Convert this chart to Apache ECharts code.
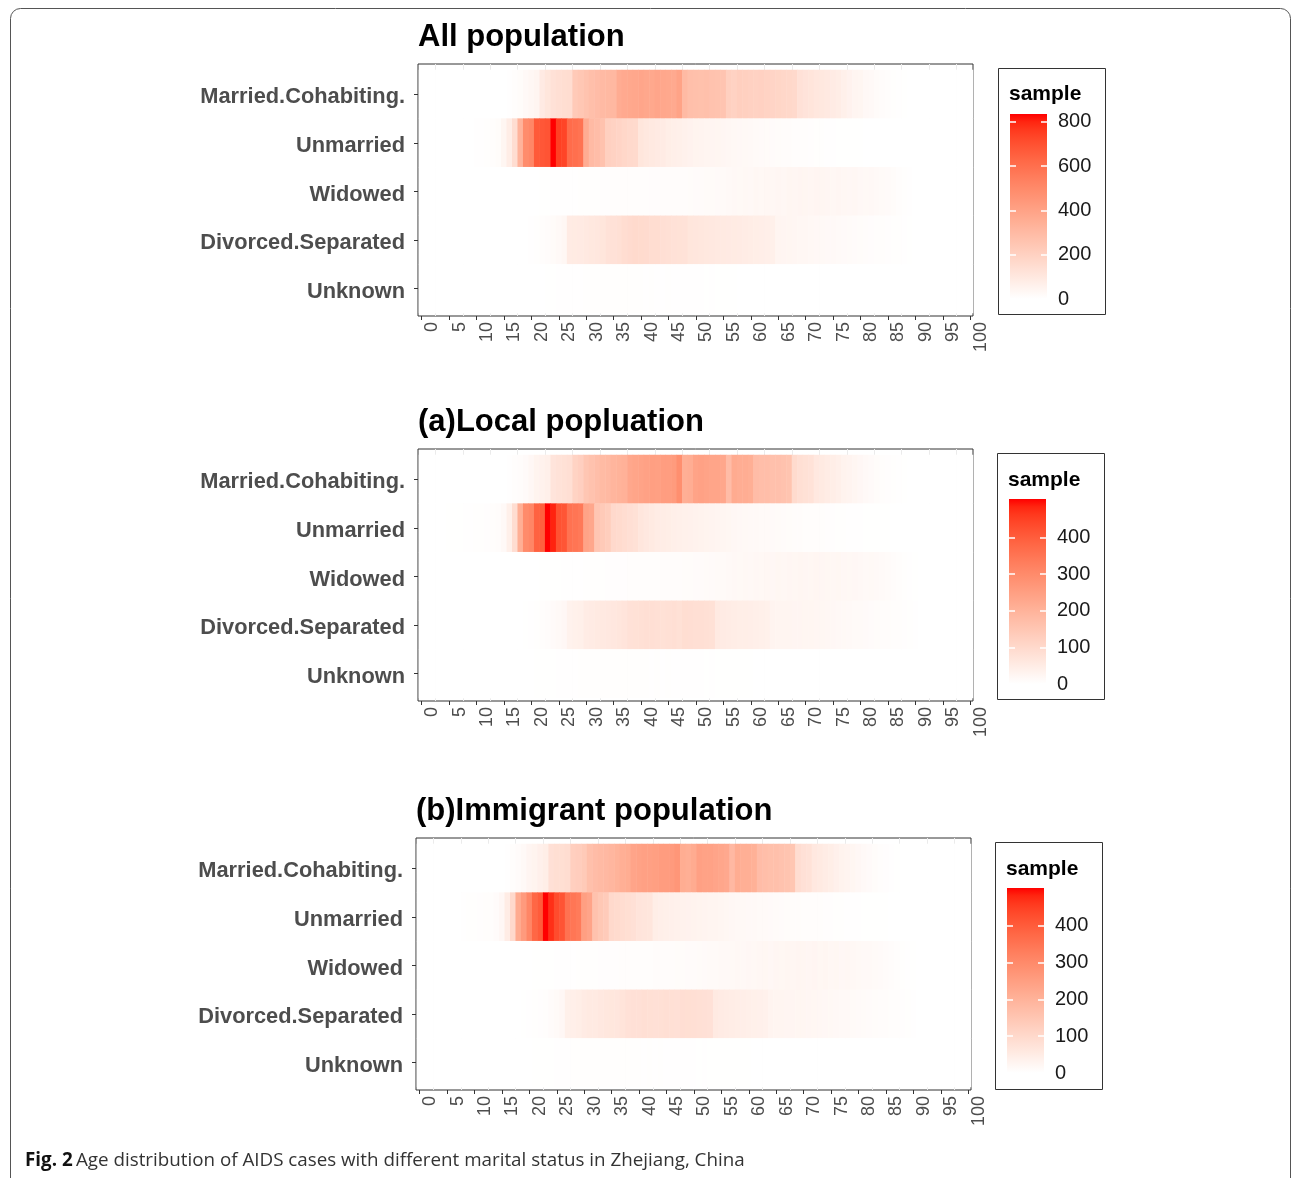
<!DOCTYPE html>
<html>
<head>
<meta charset="utf-8">
<script src="https://cdn.jsdelivr.net/npm/echarts@6/dist/echarts.min.js"></script>
<style>
  html, body { margin: 0; padding: 0; background: #ffffff; }
  #chart { width: 1292px; height: 1178px; }
</style>
</head>
<body>
<div id="chart"></div>
<script>
// ---- categories -------------------------------------------------------
const ages = Array.from({ length: 101 }, (_, i) => String(i));   // age 0 .. 100
const statuses = ['Married.Cohabiting.', 'Unmarried', 'Widowed', 'Divorced.Separated', 'Unknown'];

// ---- axis ticks -------------------------------------------------------
const ageTicks = [0, 5, 10, 15, 20, 25, 30, 35, 40, 45, 50, 55, 60, 65, 70, 75, 80, 85, 90, 95, 100];
const ageGridLines = [2.5, 7.5, 12.5, 17.5, 22.5, 27.5, 32.5, 37.5, 42.5, 47.5,
                      52.5, 57.5, 62.5, 67.5, 72.5, 77.5, 82.5, 87.5, 92.5, 97.5];
const legendTicksAll = [0, 200, 400, 600, 800];
const legendTicksLocal = [0, 100, 200, 300, 400];
const legendTicksImmigrant = [0, 100, 200, 300, 400];

// ---- case counts by age (index = age), All population ----------------
const allMarried = [
  0,0,0,0,0,0,0,0,0,0,
  0,0,0,0,0,1,3,8,15,25,
  35,45,90,110,130,140,145,150,230,245,
  260,280,290,300,305,310,360,370,375,380,
  385,380,375,385,380,375,370,395,300,280,
  275,270,275,265,260,255,205,195,210,205,
  200,195,200,190,185,180,175,170,165,130,
  120,115,105,100,95,85,80,65,55,45,
  40,30,25,18,12,8,5,3,2,1,
  0,0,0,0,0,0,0,0,0,0,
  0];
const allUnmarried = [
  0,0,0,0,0,0,0,0,0,1,
  3,4,5,8,15,40,80,150,330,490,
  510,670,680,690,835,745,735,610,600,585,
  360,300,285,265,205,195,185,175,165,160,
  110,100,95,90,85,75,70,65,60,55,
  50,48,45,42,40,38,35,32,30,28,
  25,22,20,18,16,15,14,12,10,9,
  8,7,6,5,4,3,2,2,2,2,
  2,1,1,1,1,1,0,0,0,0,
  0,0,0,0,0,0,0,0,0,0,
  0];
const allWidowed = [
  0,0,0,0,0,0,0,0,0,0,
  0,0,0,0,0,0,0,0,0,0,
  1,1,2,2,3,3,3,4,4,5,
  5,6,6,7,7,8,8,8,9,9,
  10,10,11,11,12,12,13,14,14,15,
  16,17,18,19,20,22,24,30,28,32,
  30,34,32,36,34,38,36,40,38,42,
  40,38,42,40,38,36,38,35,33,35,
  30,28,30,25,22,20,15,10,6,3,
  1,0,0,0,0,0,0,0,0,0,
  0];
const allDivorced = [
  0,0,0,0,0,0,0,0,0,0,
  0,0,0,0,0,0,0,0,0,1,
  3,5,8,12,18,25,35,85,88,90,
  95,100,105,110,125,130,135,150,155,160,
  158,155,150,148,140,135,130,128,125,110,
  108,105,100,98,95,92,90,88,85,82,
  80,75,72,70,65,45,42,40,38,36,
  34,32,30,28,26,24,22,20,18,16,
  15,13,11,9,8,7,6,5,4,2,
  1,0,0,0,0,0,0,0,0,0,
  0];
const allUnknown = [
  0,0,0,0,0,0,0,0,0,0,
  0,0,0,0,0,0,0,0,0,0,
  1,1,1,2,2,3,3,4,4,4,
  5,5,5,6,6,6,5,5,6,5,
  5,4,5,4,4,5,4,3,4,3,
  3,3,2,3,2,2,2,2,1,1,
  1,1,1,1,1,1,1,0,1,0,
  0,0,0,0,0,0,0,0,0,0,
  0,0,0,0,0,0,0,0,0,0,
  0,0,0,0,0,0,0,0,0,0,
  0];

// ---- (a) Local population -------------------------------------------
const localMarried = [
  0,0,0,0,0,0,0,0,0,0,
  0,0,0,0,0,0,2,5,8,12,
  20,30,35,40,70,75,80,85,115,125,
  150,160,170,180,185,195,200,205,230,235,
  240,245,250,248,255,255,260,290,210,215,
  240,245,240,235,235,230,175,220,215,215,
  210,175,170,170,165,165,160,155,95,85,
  80,75,60,55,50,45,40,32,28,24,
  20,16,12,9,6,4,3,2,1,0,
  0,0,0,0,0,0,0,0,0,0,
  0];
const localUnmarried = [
  0,0,0,0,0,1,1,1,2,2,
  3,3,4,5,8,15,40,90,210,300,
  310,390,395,505,485,420,415,355,350,340,
  240,230,150,140,130,100,95,90,85,80,
  65,60,55,50,48,45,42,40,38,36,
  34,32,30,28,26,24,22,20,18,17,
  16,15,14,13,12,11,10,9,8,7,
  6,6,5,5,4,4,3,3,2,2,
  2,1,1,1,1,1,0,0,0,0,
  0,0,0,0,0,0,0,0,0,0,
  0];
const localWidowed = [
  0,0,0,0,0,0,0,0,0,0,
  0,0,0,0,0,0,0,0,0,0,
  0,0,1,1,1,1,2,2,2,2,
  3,3,3,3,4,4,4,4,5,5,
  5,6,6,6,7,7,8,8,9,9,
  10,10,11,12,13,14,15,18,17,19,
  18,20,19,21,20,22,21,23,22,24,
  23,22,24,23,22,21,22,20,19,20,
  18,16,17,15,13,11,8,5,3,2,
  1,0,0,0,0,0,0,0,0,0,
  0];
const localDivorced = [
  0,0,0,0,0,0,0,0,0,0,
  0,0,0,0,0,0,0,0,0,1,
  2,3,5,8,12,15,20,35,38,40,
  50,52,55,58,60,62,65,70,78,80,
  82,85,84,82,80,82,84,80,88,86,
  85,84,82,80,55,52,50,48,46,45,
  44,42,40,38,28,27,26,26,25,25,
  24,24,23,22,21,20,18,17,15,14,
  13,12,10,9,8,7,6,5,4,3,
  2,0,0,0,0,0,0,0,0,0,
  0];
const localUnknown = [
  0,0,0,0,0,0,0,0,0,0,
  0,0,0,0,0,0,0,0,0,0,
  0,1,1,1,1,2,2,2,2,3,
  3,3,3,3,3,3,3,3,3,3,
  3,3,2,3,2,3,2,2,2,2,
  2,2,1,2,1,1,1,1,1,1,
  1,0,0,0,0,0,0,0,0,0,
  0,0,0,0,0,0,0,0,0,0,
  0,0,0,0,0,0,0,0,0,0,
  0,0,0,0,0,0,0,0,0,0,
  0];

// ---- (b) Immigrant population ---------------------------------------
const immigrantMarried = [
  0,0,0,0,0,0,0,0,0,0,
  0,0,0,0,0,0,2,5,10,15,
  25,30,38,45,80,85,85,90,125,130,
  140,165,175,180,185,190,200,210,215,235,
  240,245,245,250,255,255,260,270,215,210,
  220,245,240,240,235,230,225,185,215,210,
  210,205,175,170,165,165,160,155,150,90,
  80,75,60,55,50,45,38,32,28,24,
  20,16,12,9,6,4,2,1,0,0,
  0,0,0,0,0,0,0,0,0,0,
  0];
const immigrantUnmarried = [
  0,0,0,0,0,0,0,0,2,3,
  3,4,5,6,10,20,50,100,220,260,
  310,380,400,503,470,430,415,355,345,335,
  250,235,160,145,135,100,95,90,85,80,
  70,68,65,45,42,40,38,36,35,33,
  32,30,28,27,26,24,22,20,18,17,
  16,15,14,13,12,11,10,9,8,7,
  6,6,5,5,4,4,3,3,2,2,
  2,1,1,1,1,1,0,0,0,0,
  0,0,0,0,0,0,0,0,0,0,
  0];
const immigrantWidowed = [
  0,0,0,0,0,0,0,0,0,0,
  0,0,0,0,0,0,0,0,0,0,
  0,1,1,1,1,2,2,2,2,3,
  3,3,3,4,4,4,4,5,5,5,
  6,6,6,7,7,8,8,9,9,10,
  10,11,12,13,14,15,16,17,19,18,
  20,19,21,22,20,23,22,24,23,25,
  24,23,25,22,24,21,22,20,21,19,
  17,16,15,14,12,10,8,5,3,2,
  1,0,0,0,0,0,0,0,0,0,
  0];
const immigrantDivorced = [
  0,0,0,0,0,0,0,0,0,0,
  0,0,0,0,0,0,0,0,0,1,
  2,3,4,6,10,14,20,40,42,45,
  52,55,56,60,62,64,66,72,78,80,
  80,84,82,80,82,84,82,80,86,85,
  84,82,80,78,55,52,50,48,45,44,
  42,40,38,36,28,27,26,25,25,24,
  24,23,22,21,20,19,18,16,15,14,
  12,11,10,9,8,7,6,5,4,3,
  2,0,0,0,0,0,0,0,0,0,
  0];
const immigrantUnknown = [
  0,0,0,0,0,0,0,0,0,0,
  0,0,0,0,0,0,0,0,0,0,
  0,1,1,1,1,2,2,2,3,3,
  3,3,3,3,3,3,3,3,3,3,
  3,2,3,2,3,2,2,2,2,2,
  2,1,2,1,1,1,1,1,1,1,
  1,0,0,0,0,0,0,0,0,0,
  0,0,0,0,0,0,0,0,0,0,
  0,0,0,0,0,0,0,0,0,0,
  0,0,0,0,0,0,0,0,0,0,
  0];

// ---- white -> red colour ramp, interpolated in CIE Lab ----------------
function labToHex(L, A, B) {
  const eps = 216 / 24389, kap = 24389 / 27;
  const fy = (L + 16) / 116, fx = fy + A / 500, fz = fy - B / 200;
  const inv = t => (t * t * t > eps ? t * t * t : (116 * t - 16) / kap);
  const X = 0.95047 * inv(fx);
  const Y = L > kap * eps ? fy * fy * fy : L / kap;
  const Z = 1.08883 * inv(fz);
  const lin = [
     3.2404542 * X - 1.5371385 * Y - 0.4985314 * Z,
    -0.9692660 * X + 1.8760108 * Y + 0.0415560 * Z,
     0.0556434 * X - 0.2040259 * Y + 1.0572252 * Z
  ];
  return '#' + lin.map(c => {
    c = Math.min(1, Math.max(0, c));
    const s = c <= 0.0031308 ? 12.92 * c : 1.055 * Math.pow(c, 1 / 2.4) - 0.055;
    return Math.round(s * 255).toString(16).padStart(2, '0');
  }).join('');
}
const WHITE_LAB = [100, 0, 0];
const RED_LAB = [53.2408, 80.0925, 67.2032];
const RAMP_STEPS = 24;
const ramp = [];
for (let i = 0; i <= RAMP_STEPS; i++) {
  const t = i / RAMP_STEPS;
  ramp.push(labToHex(
    WHITE_LAB[0] + (RED_LAB[0] - WHITE_LAB[0]) * t,
    WHITE_LAB[1] + (RED_LAB[1] - WHITE_LAB[1]) * t,
    WHITE_LAB[2] + (RED_LAB[2] - WHITE_LAB[2]) * t));
}
const rampGradient = () => new echarts.graphic.LinearGradient(0, 1, 0, 0,
  ramp.map((c, i) => ({ offset: i / RAMP_STEPS, color: c })));

// ---- panel layout ----------------------------------------------------
const FONT = '"Liberation Sans", Arial, Helvetica, sans-serif';
const FRAME_W = 555, FRAME_H = 252;
const TILE_INSET_L = 1, TILE_INSET_T = 6, TILE_H = 243;       // tile area inside each frame
const TILE_W = FRAME_W - TILE_INSET_L;
const cellW = TILE_W / ages.length;
// age value at the frame's left / right edge, so the tick axis lines up with the tile centres
const AGE_AT_LEFT = -0.5 - TILE_INSET_L / cellW;
const AGE_AT_RIGHT = ages.length - 0.5;

const panels = [
  { title: 'All population', titleY: 37, rows: [allMarried, allUnmarried, allWidowed, allDivorced, allUnknown],
    ticks: legendTicksAll, frame: [418, 64], box: [998, 68, 107, 246], bar: [1010, 114, 37, 185], sampleY: 94 },
  { title: '(a)Local popluation', titleY: 422, rows: [localMarried, localUnmarried, localWidowed, localDivorced, localUnknown],
    ticks: legendTicksLocal, frame: [418, 449], box: [997, 453, 107, 246], bar: [1009, 499, 37, 185], sampleY: 480 },
  { title: '(b)Immigrant population', titleY: 811, rows: [immigrantMarried, immigrantUnmarried, immigrantWidowed, immigrantDivorced, immigrantUnknown],
    ticks: legendTicksImmigrant, frame: [416, 838], box: [995, 842, 107, 247], bar: [1007, 888, 37, 185], sampleY: 869 }
];

const grid = [], xAxis = [], yAxis = [], series = [], visualMap = [], graphic = [];

panels.forEach(p => {
  const cells = [];
  p.rows.forEach((row, r) => row.forEach((v, a) => cells.push([a, r, v])));
  const maxVal = Math.max(...p.rows.map(row => Math.max(...row)));

  // framed panel: border, age ticks and labels, faint grid lines
  const fg = grid.length;
  grid.push({ left: p.frame[0], top: p.frame[1], width: FRAME_W, height: FRAME_H,
    show: true, borderColor: '#333333', borderWidth: 1, backgroundColor: '#ffffff' });
  const fx = xAxis.length;
  xAxis.push({ gridIndex: fg, type: 'value', min: AGE_AT_LEFT, max: AGE_AT_RIGHT,
    axisLine: { show: false }, splitLine: { show: false },
    axisTick: { show: true, length: 4, customValues: ageTicks, lineStyle: { color: '#333333', width: 1 } },
    axisLabel: { show: true, customValues: ageTicks, formatter: v => String(v), rotate: 90,
      verticalAlign: 'top', lineHeight: 21, margin: 6, fontSize: 18, color: '#4D4D4D', fontFamily: FONT } });
  const fy = yAxis.length;
  yAxis.push({ gridIndex: fg, type: 'value', min: 0, max: 1, show: false });
  series.push({ type: 'line', xAxisIndex: fx, yAxisIndex: fy, data: [], silent: true, z: 1,
    markLine: { z: 1, symbol: 'none', silent: true, animation: false, label: { show: false },
      lineStyle: { color: '#EBEBEB', width: 1, type: 'solid' },
      data: ageGridLines.map(a => ({ xAxis: a })) } });

  // heat tiles
  const hg = grid.length;
  grid.push({ left: p.frame[0] + TILE_INSET_L, top: p.frame[1] + TILE_INSET_T, width: TILE_W, height: TILE_H });
  const hx = xAxis.length;
  xAxis.push({ gridIndex: hg, type: 'category', data: ages, show: false });
  const hy = yAxis.length;
  yAxis.push({ gridIndex: hg, type: 'category', data: statuses, inverse: true, offset: TILE_INSET_L,
    axisLine: { show: false },
    axisTick: { show: true, alignWithLabel: true, length: 4, lineStyle: { color: '#333333', width: 1 } },
    axisLabel: { margin: 13, formatter: '{s|{value}}',
      rich: { s: { fontSize: 21.8, fontWeight: 'bold', color: '#4D4D4D', fontFamily: FONT,
        padding: [6, 0, 0, 0] } } },
    splitLine: { show: false } });
  const si = series.length;
  series.push({ type: 'heatmap', xAxisIndex: hx, yAxisIndex: hy, data: cells, z: 3,
    progressive: 0, itemStyle: { borderWidth: 0 }, emphasis: { disabled: true } });
  visualMap.push({ type: 'continuous', show: false, seriesIndex: si, dimension: 2,
    min: 0, max: maxVal, inRange: { color: ramp } });

  // colour bar
  const bg = grid.length;
  grid.push({ left: p.bar[0], top: p.bar[1], width: p.bar[2], height: p.bar[3] });
  const bx = xAxis.length;
  xAxis.push({ gridIndex: bg, type: 'category', data: ['sample'], show: false });
  const by = yAxis.length;
  const whiteTick = { show: true, inside: true, length: 6, customValues: p.ticks,
    lineStyle: { color: '#ffffff', width: 1.5 } };
  yAxis.push({ gridIndex: bg, type: 'value', min: 0, max: maxVal, position: 'left', z: 5,
    axisLine: { show: false }, splitLine: { show: false }, axisLabel: { show: false }, axisTick: whiteTick });
  yAxis.push({ gridIndex: bg, type: 'value', min: 0, max: maxVal, position: 'right', z: 5,
    axisLine: { show: false }, splitLine: { show: false }, axisTick: whiteTick,
    axisLabel: { show: true, customValues: p.ticks, margin: 11, fontSize: 20, color: '#1A1A1A', fontFamily: FONT } });
  series.push({ type: 'bar', xAxisIndex: bx, yAxisIndex: by, data: [maxVal], barWidth: '100%',
    silent: true, itemStyle: { color: rampGradient() } });

  // legend box, titles
  graphic.push({ type: 'rect', silent: true, z: -1,
    shape: { x: p.box[0] + 0.5, y: p.box[1] + 0.5, width: p.box[2], height: p.box[3] },
    style: { fill: 'none', stroke: '#333333', lineWidth: 1 } });
  graphic.push({ type: 'text', silent: true,
    style: { x: p.box[0] + 11, y: p.sampleY, text: 'sample', font: 'bold 21px ' + FONT,
      fill: '#000000', verticalAlign: 'middle', align: 'left' } });
  graphic.push({ type: 'text', silent: true,
    style: { x: p.frame[0], y: p.titleY, text: p.title, font: 'bold 31px ' + FONT,
      fill: '#000000', verticalAlign: 'middle', align: 'left' } });
});

// outer card border and figure caption
graphic.push({ type: 'rect', silent: true, z: -2,
  shape: { x: 10.5, y: 8.5, width: 1280, height: 1220, r: 10 },
  style: { fill: 'none', stroke: '#555555', lineWidth: 1 } });
graphic.push({ type: 'text', silent: true,
  style: { x: 25, y: 1161, verticalAlign: 'middle', align: 'left',
    text: '{b|Fig. 2} {n|Age distribution of AIDS cases with different marital status in Zhejiang, China}',
    rich: {
      b: { fontFamily: '"Open Sans", "Noto Sans", sans-serif', fontSize: 18.8, fontWeight: 'bold', fill: '#111111' },
      n: { fontFamily: '"Open Sans", "Noto Sans", sans-serif', fontSize: 18.8, fill: '#333333' }
    } } });

const chart = echarts.init(document.getElementById('chart'), null, { renderer: 'canvas' });
chart.setOption({
  animation: false,
  backgroundColor: '#ffffff',
  grid, xAxis, yAxis, series, visualMap, graphic
});
</script>
</body>
</html>
